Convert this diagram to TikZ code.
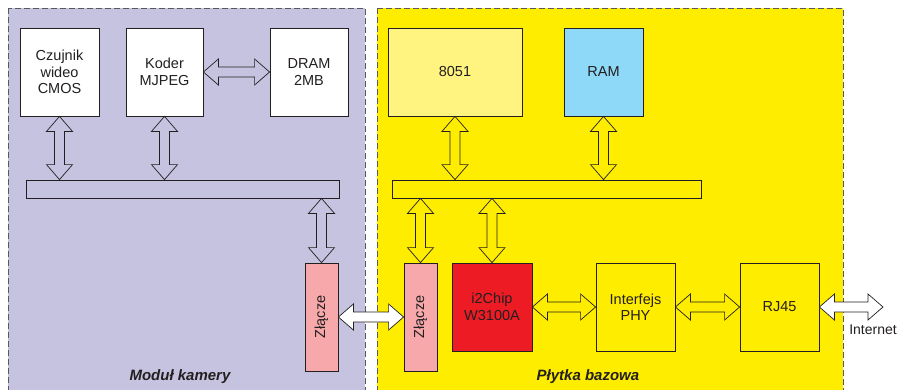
\documentclass[tikz,border=0pt]{standalone}
\usepackage{fontspec}
\setmainfont{Liberation Sans}
\usetikzlibrary{calc}
\definecolor{lav}{HTML}{C6C3E1}
\definecolor{yel}{HTML}{FFED00}
\definecolor{lyel}{HTML}{FFF47F}
\definecolor{ramblue}{HTML}{8ED8F8}
\definecolor{chipred}{HTML}{ED1C24}
\definecolor{pinkz}{HTML}{F6A8AA}
\definecolor{linec}{HTML}{231F20}
\definecolor{dashc}{HTML}{58595B}
\tikzset{
  panel/.style={draw=dashc, line width=0.8pt, dash pattern=on 6pt off 3pt},
  box/.style={draw=linec, line width=0.8pt, inner sep=0pt, align=center,
    font=\fontsize{14.5}{16.5}\selectfont, text=linec},
  fatH/.style={draw=linec, line width=0.7pt, to path={
    let \p1=(\tikztostart), \p2=(\tikztotarget) in
    (\x1,\y1) -- (\x1+15pt,\y1+13pt) -- (\x1+15pt,\y1+5pt) -- (\x2-15pt,\y1+5pt)
    -- (\x2-15pt,\y1+13pt) -- (\x2,\y1) -- (\x2-15pt,\y1-13pt) -- (\x2-15pt,\y1-5pt)
    -- (\x1+15pt,\y1-5pt) -- (\x1+15pt,\y1-13pt) -- cycle}},
  fatV/.style={draw=linec, line width=0.7pt, to path={
    let \p1=(\tikztostart), \p2=(\tikztotarget) in
    (\x1,\y1) -- (\x1+13pt,\y1-15pt) -- (\x1+5pt,\y1-15pt) -- (\x1+5pt,\y2+15pt)
    -- (\x1+13pt,\y2+15pt) -- (\x1,\y2) -- (\x1-13pt,\y2+15pt) -- (\x1-5pt,\y2+15pt)
    -- (\x1-5pt,\y1-15pt) -- (\x1-13pt,\y1-15pt) -- cycle}},
  paneltitle/.style={font=\fontsize{15}{17}\selectfont\bfseries\itshape, text=linec}
}
\begin{document}
\begin{tikzpicture}[x=1pt,y=-1pt]
\useasboundingbox (0,0) rectangle (898,389);
\clip (0,0) rectangle (898,389);
\fill[white] (0,0) rectangle (898,389);
% panels
\path[panel, fill=lav] (8,8) rectangle (365,400);
\path[panel, fill=yel] (377,8) rectangle (843,400);
% camera module
\node[box, fill=white, minimum width=79pt, minimum height=88pt] (czujnik) at (59.5,72) {Czujnik\\wideo\\CMOS};
\node[box, fill=white, minimum width=77pt, minimum height=88pt] (koder) at (164.5,72) {Koder\\MJPEG};
\node[box, fill=white, minimum width=78pt, minimum height=88pt] (dram) at (309,72) {DRAM\\2MB};
\node[box, minimum width=313pt, minimum height=18pt] (lbus) at (182.5,189) {};
\node[box, fill=pinkz, minimum width=33pt, minimum height=108pt] (zl1) at (321.5,317) {\rotatebox{90}{Złącze}};
% base board
\node[box, fill=lyel, minimum width=134pt, minimum height=88pt] (cpu) at (455,72) {8051};
\node[box, fill=ramblue, minimum width=79pt, minimum height=88pt] (ram) at (603.5,72) {RAM};
\node[box, minimum width=309pt, minimum height=18pt] (rbus) at (546.5,189) {};
\node[box, fill=pinkz, minimum width=33pt, minimum height=108pt] (zl2) at (420.5,317) {\rotatebox{90}{Złącze}};
\node[box, fill=chipred, minimum width=80pt, minimum height=88pt] (chip) at (492,307) {i2Chip\\W3100A};
\node[box, minimum width=79pt, minimum height=88pt] (phy) at (635.5,307) {Interfejs\\PHY};
\node[box, minimum width=79pt, minimum height=88pt] (rj) at (779.5,307) {RJ45};
\coordinate (net) at (883,307);
% arrows
\draw[fatH] (koder.east) to (dram.west);
\draw[fatV] (czujnik.south) to (czujnik.south |- lbus.north);
\draw[fatV] (koder.south) to (koder.south |- lbus.north);
\draw[fatV] (lbus.south -| zl1.north) to (zl1.north);
\draw[fatH, fill=white] (zl1.east) to (zl2.west);
\draw[fatV] (cpu.south) to (cpu.south |- rbus.north);
\draw[fatV] (ram.south) to (ram.south |- rbus.north);
\draw[fatV] (rbus.south -| zl2.north) to (zl2.north);
\draw[fatV] (rbus.south -| chip.north) to (chip.north);
\draw[fatH] (chip.east) to (phy.west);
\draw[fatH] (phy.east) to (rj.west);
\draw[fatH, fill=white] (rj.east) to (net);
% labels
\node[font=\fontsize{14}{16}\selectfont, text=linec] (netlbl) at (873,330) {Internet};
\node[paneltitle] (t1) at (180,377) {Moduł kamery};
\node[paneltitle] (t2) at (588,377) {Płytka bazowa};
\end{tikzpicture}
\end{document}
